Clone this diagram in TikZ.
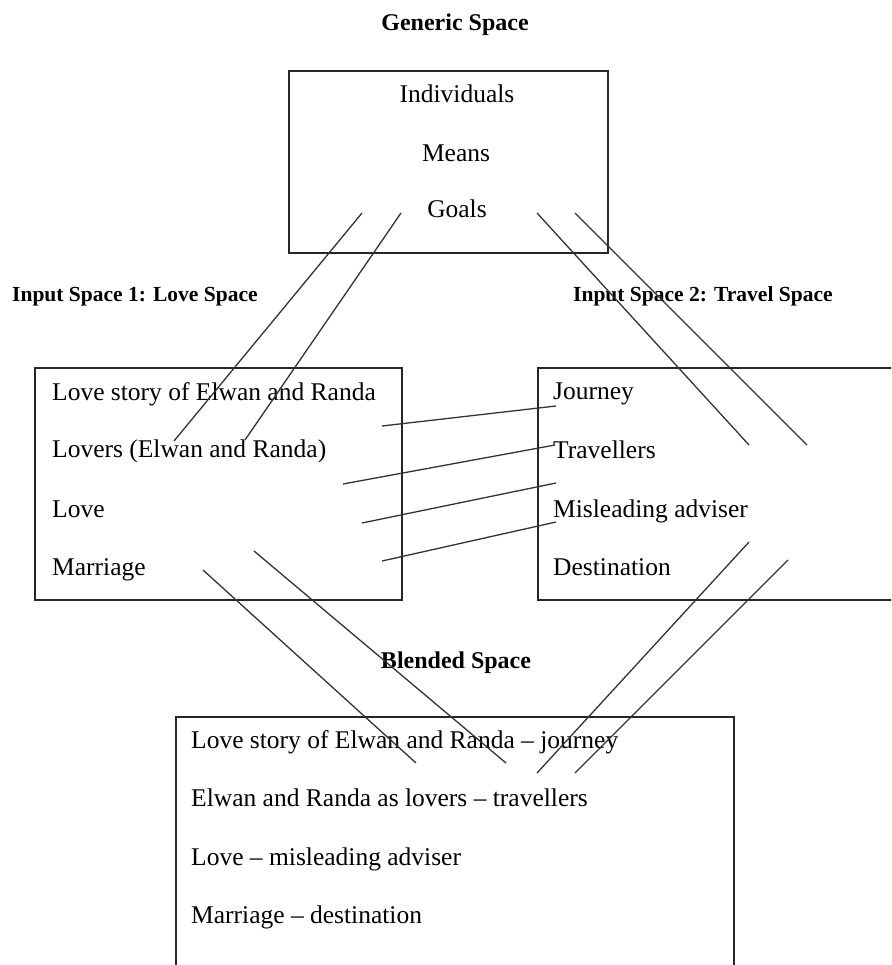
\documentclass[tikz,border=0pt]{standalone}
\usepackage{fontspec}
\setmainfont{Liberation Serif}
\begin{document}
\begin{tikzpicture}[x=1pt,y=1pt,
  frame/.style={draw=black!85, line width=1.8pt, rectangle, inner sep=0pt, anchor=north west},
  link/.style={draw=black!80, line width=1.3pt},
  body/.style={inner sep=0pt, font=\fontsize{25.5}{30}\selectfont},
  head/.style={inner sep=0pt, anchor=base, font=\fontsize{24}{28}\selectfont\bfseries},
  inhead/.style={inner sep=0pt, anchor=base west, font=\fontsize{21.5}{26}\selectfont\bfseries}]
\clip (0,0) rectangle (891,-965);
\fill[white] (0,0) rectangle (891,-965);

% headings
\node[head] (tgen) at (455,-31) {Generic Space};
\node[inhead] (tin1) at (12,-301) {Input Space 1: Love Space};
\node[inhead] (tin2) at (573,-301) {Input Space 2: Travel Space};
\node[head] (tbl) at (456,-668) {Blended Space};

% the four spaces
\node[frame, minimum width=319pt, minimum height=182pt] (generic) at (288,-70) {};
\node[frame, minimum width=367pt, minimum height=232pt] (love) at (34,-367) {};
\node[frame, minimum width=370pt, minimum height=232pt] (travel) at (537,-367) {};
\node[frame, minimum width=558pt, minimum height=270pt] (blend) at (175,-716) {};

% generic space
\node[body, anchor=base] (g1) at (457,-103) {Individuals};
\node[body, anchor=base] (g2) at (456,-162) {Means};
\node[body, anchor=base] (g3) at (457,-218) {Goals};

% love space
\node[body, anchor=base west] (l1) at (52,-400) {Love story of Elwan and Randa};
\node[body, anchor=base west] (l2) at (52,-457) {Lovers (Elwan and Randa)};
\node[body, anchor=base west] (l3) at (52,-517) {Love};
\node[body, anchor=base west] (l4) at (52,-575) {Marriage};

% travel space
\node[body, anchor=base west] (r1) at (553,-399) {Journey};
\node[body, anchor=base west] (r2) at (553,-458) {Travellers};
\node[body, anchor=base west] (r3) at (553,-517) {Misleading adviser};
\node[body, anchor=base west] (r4) at (553,-575) {Destination};

% blended space
\node[body, anchor=base west] (b1) at (191,-748) {Love story of Elwan and Randa – journey};
\node[body, anchor=base west] (b2) at (191,-806) {Elwan and Randa as lovers – travellers};
\node[body, anchor=base west] (b3) at (191,-865) {Love – misleading adviser};
\node[body, anchor=base west] (b4) at (191,-923) {Marriage – destination};

% end points of the mapping lines
\coordinate (gl1) at (362,-213); \coordinate (il1) at (174,-441);
\coordinate (gl2) at (401,-213); \coordinate (il2) at (245,-440);
\coordinate (gr1) at (537,-213); \coordinate (ir1) at (749,-445);
\coordinate (gr2) at (575,-213); \coordinate (ir2) at (807,-445);
\coordinate (ha1) at (382,-426); \coordinate (hb1) at (556,-406);
\coordinate (ha2) at (343,-484); \coordinate (hb2) at (555,-445);
\coordinate (ha3) at (362,-523); \coordinate (hb3) at (556,-483);
\coordinate (ha4) at (382,-561); \coordinate (hb4) at (556,-522);
\coordinate (bl1) at (203,-570); \coordinate (el1) at (416,-763);
\coordinate (bl2) at (254,-551); \coordinate (el2) at (506,-763);
\coordinate (br1) at (749,-542); \coordinate (er1) at (537,-773);
\coordinate (br2) at (788,-560); \coordinate (er2) at (575,-773);

% generic to inputs
\draw[link] (gl1) -- (il1);
\draw[link] (gl2) -- (il2);
\draw[link] (gr1) -- (ir1);
\draw[link] (gr2) -- (ir2);
% cross-space mapping
\draw[link] (ha1) -- (hb1);
\draw[link] (ha2) -- (hb2);
\draw[link] (ha3) -- (hb3);
\draw[link] (ha4) -- (hb4);
% inputs to blend
\draw[link] (bl1) -- (el1);
\draw[link] (bl2) -- (el2);
\draw[link] (br1) -- (er1);
\draw[link] (br2) -- (er2);
\end{tikzpicture}
\end{document}
